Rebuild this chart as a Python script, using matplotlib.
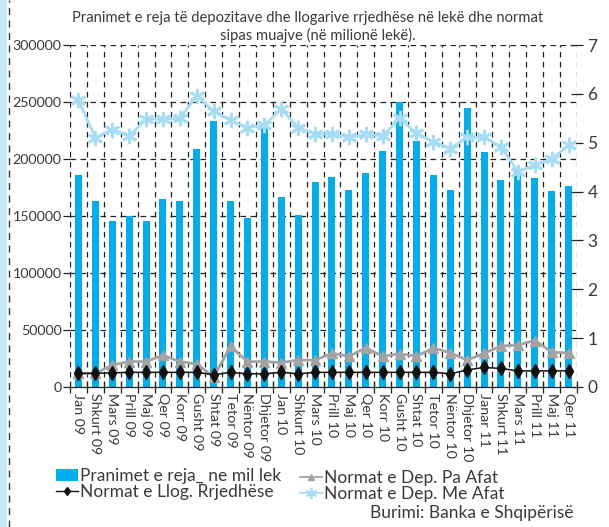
import matplotlib
matplotlib.use("Agg")
import matplotlib.pyplot as plt
import numpy as np
from matplotlib.lines import Line2D
from matplotlib.patches import Rectangle

months = ["Jan 09", "Shkurt 09", "Mars 09", "Prill 09", "Maj 09", "Qer 09", "Korr 09",
          "Gusht 09", "Shtat 09", "Tetor 09", "Nëntor 09", "Dhjetor 09", "Jan 10",
          "Shkurt 10", "Mars 10", "Prill 10", "Maj 10", "Qer 10", "Korr 10", "Gusht 10",
          "Shtat 10", "Tetor 10", "Nëntor 10", "Dhjetor 10", "Janar 11", "Shkurt 11",
          "Mars 11", "Prill 11", "Maj 11", "Qer 11"]

pranimet = [186000, 163000, 145600, 150300, 145600, 164900, 163000, 208800, 233600,
            163000, 148200, 230700, 167000, 150900, 179800, 184500, 172800, 187700,
            207000, 250300, 215800, 186000, 172800, 245000, 206100, 181600, 191000,
            183600, 171900, 176600]

llog_rrjedhese = [0.28, 0.28, 0.29, 0.30, 0.30, 0.30, 0.30, 0.30, 0.25, 0.30, 0.27,
                  0.27, 0.30, 0.27, 0.30, 0.30, 0.30, 0.30, 0.30, 0.30, 0.30, 0.30,
                  0.27, 0.35, 0.40, 0.38, 0.33, 0.33, 0.33, 0.33]

pa_afat = [0.28, 0.28, 0.45, 0.52, 0.52, 0.65, 0.52, 0.47, 0.21, 0.83, 0.52, 0.52,
           0.50, 0.55, 0.55, 0.69, 0.63, 0.80, 0.63, 0.68, 0.63, 0.80, 0.70, 0.55,
           0.69, 0.84, 0.86, 0.95, 0.72, 0.69]

me_afat = [5.87, 5.10, 5.27, 5.14, 5.48, 5.48, 5.50, 5.96, 5.65, 5.46, 5.31, 5.36,
           5.69, 5.31, 5.18, 5.18, 5.11, 5.17, 5.14, 5.50, 5.19, 5.02, 4.88, 5.11,
           5.11, 4.92, 4.41, 4.54, 4.66, 4.95]

left_ticks = [0, 50000, 100000, 150000, 200000, 250000, 300000]
right_ticks = [0, 1, 2, 3, 4, 5, 6, 7]

FONT = "Lato"
TXT = "#3a3a3a"
BAR = "#00AEEF"
LIGHT = "#A6DDF6"
GREY = "#A3A3A3"

plt.rcParams["font.family"] = [FONT, "DejaVu Sans"]

W, H = 609, 527
fig = plt.figure(figsize=(W / 100, H / 100), dpi=100)

# page-side strip
fig.patches.append(Rectangle((0, 0), 7 / W, 1, transform=fig.transFigure,
                             facecolor="#C8E9F8", edgecolor="none", zorder=0))
fig.lines.append(Line2D([8.5 / W, 8.5 / W], [0, 1], transform=fig.transFigure,
                        color="#333333", lw=1.0, ls=(0, (5, 4))))

ax = fig.add_axes([70 / W, (H - 387) / H, (577 - 70) / W, (387 - 45) / H])
ax2 = ax.twinx()

n = len(months)
x = np.arange(n)

ax.bar(x, pranimet, width=0.42, color=BAR, zorder=2)
ax.set_xlim(-0.5, n - 0.5)
ax.set_ylim(0, 300000)
ax.set_yticks(left_ticks)
ax.set_yticklabels([str(v) for v in left_ticks])

dash = (0, (4.5, 3.5))
for b in np.arange(-0.5, n, 1.0):
    ax.axvline(b, color="#222222", lw=0.9, ls=dash, zorder=1)
for t in left_ticks[1:]:
    ax.axhline(t, color="#222222", lw=0.9, ls=dash, zorder=1)

for sp in ["top", "left", "right"]:
    ax.spines[sp].set_visible(False)
    ax2.spines[sp].set_visible(False)
ax.spines["bottom"].set_color("#222222")
ax.spines["bottom"].set_linewidth(0.9)
ax2.spines["bottom"].set_visible(False)

# x ticks: marks at boundaries, labels at centres
ax.set_xticks(np.arange(-0.5, n, 1.0))
ax.set_xticklabels([])
ax.tick_params(axis="x", which="major", direction="inout", length=8, width=0.9,
               color="#222222")
ax.set_xticks(x, minor=True)
ax.set_xticklabels(months, minor=True, rotation=270, fontsize=10.3, color=TXT)
ax.tick_params(axis="x", which="minor", length=0, pad=4)
ax.tick_params(axis="y", direction="out", length=5, width=0.9, color="#222222",
               labelsize=10.3, labelcolor=TXT, pad=1)

ax2.plot(x, pa_afat, color=GREY, lw=2, marker="^", ms=7, zorder=4)
ax2.plot(x, llog_rrjedhese, color="#111111", lw=1.1, marker="d", ms=7, zorder=5)
ax2.plot(x, me_afat, color=LIGHT, lw=2, marker=(6, 2, 0), ms=11, mew=2,
         zorder=4)
ax2.set_ylim(0, 7)
ax2.set_yticks(right_ticks)
ax2.tick_params(axis="y", direction="inout", length=9, width=0.9, color="#222222",
                labelsize=12.5, labelcolor=TXT, pad=3)
ax.set_zorder(1)
ax2.set_zorder(2)
ax.patch.set_visible(False)

fig.text(308 / W, 1 - 18 / H,
         "Pranimet e reja të depozitave dhe llogarive rrjedhëse në lekë dhe normat",
         ha="center", va="center", fontsize=10.6, color=TXT)
fig.text(318 / W, 1 - 35 / H, "sipas muajve (në milionë lekë).",
         ha="center", va="center", fontsize=10.6, color=TXT)

h1 = [Rectangle((0, 0), 1, 1, facecolor=BAR, edgecolor="none"),
      Line2D([], [], color="#111111", lw=1.0, marker="d", ms=4.5)]
leg1 = fig.legend(h1, ["Pranimet e reja_ ne mil lek", "Normat e Llog. Rrjedhëse"],
                  loc="upper left", bbox_to_anchor=(47 / W, 1 - 459 / H),
                  frameon=False, fontsize=12.5, handlelength=1.3, handletextpad=0.1,
                  labelspacing=0.0, borderpad=0, labelcolor=TXT)
h2 = [Line2D([], [], color=GREY, lw=1.3, marker="^", ms=4.5),
      Line2D([], [], color=LIGHT, lw=1.3, marker=(6, 2, 0), ms=8, mew=1.3)]
leg2 = fig.legend(h2, ["Normat e Dep. Pa Afat", "Normat e Dep. Me Afat"],
                  loc="upper left", bbox_to_anchor=(291 / W, 1 - 461 / H),
                  frameon=False, fontsize=12.5, handlelength=1.3, handletextpad=0.1,
                  labelspacing=0.0, borderpad=0, labelcolor=TXT)
fig.text(370 / W, 1 - 513 / H, "Burimi: Banka e Shqipërisë", ha="left",
         va="center", fontsize=12.5, color=TXT)

fig.savefig("out.png", dpi=100)
